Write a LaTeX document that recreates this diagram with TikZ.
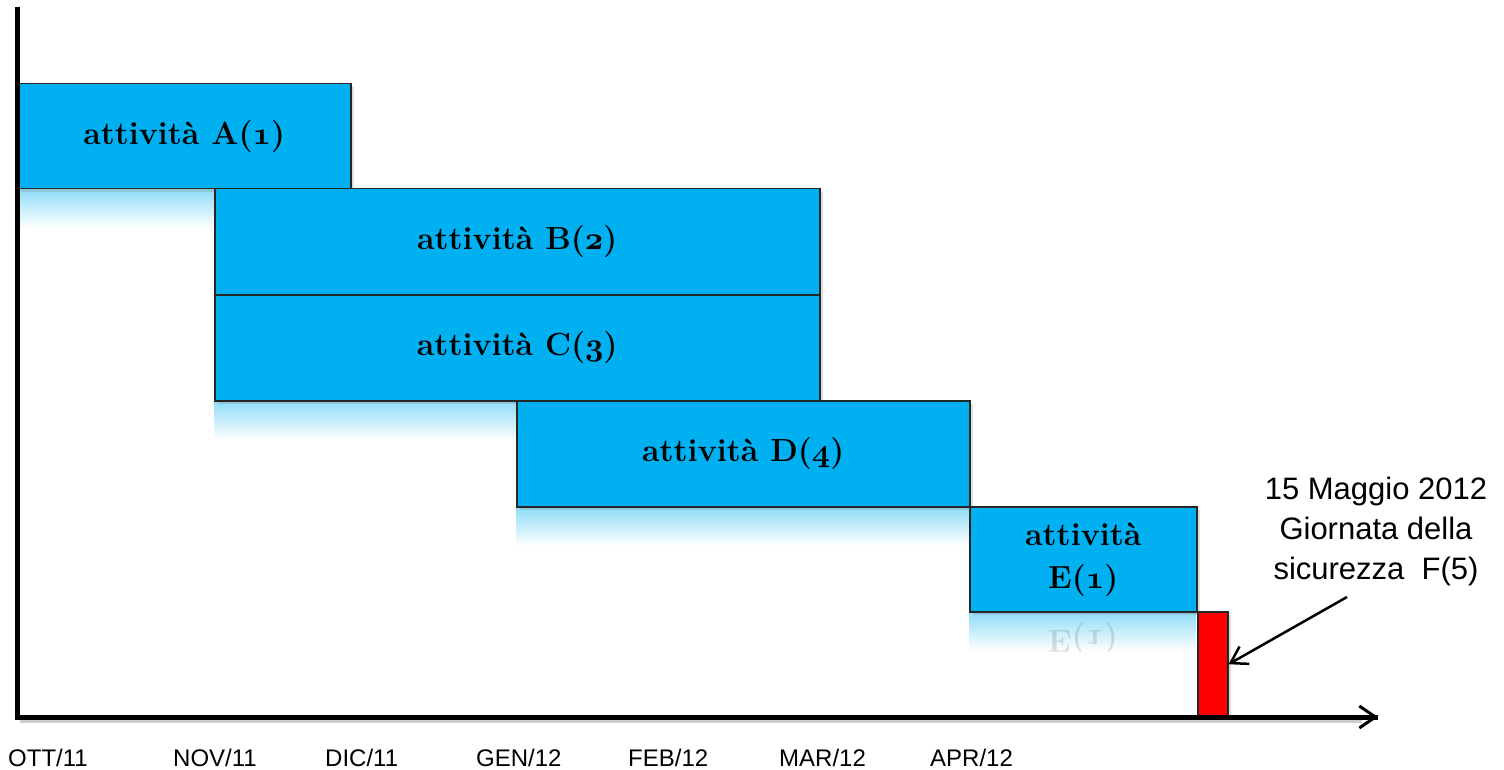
\RequirePackage{fix-cm}
\documentclass[tikz,border=0pt]{standalone}
\usepackage{fontspec}
\newfontfamily\arialf{Liberation Sans}
\usetikzlibrary{arrows.meta,shadows}
\definecolor{boxblue}{HTML}{00B0F0}
\definecolor{boxred}{HTML}{FF0000}
\newcommand{\osfnum}[1]{{\usefont{OML}{cmm}{b}{it}#1}}
\begin{document}
\begin{tikzpicture}[x=1pt,y=-1pt,
  actbox/.style={draw=black!85, line width=1.5pt, fill=boxblue, anchor=north west,
    drop shadow={shadow xshift=3pt,shadow yshift=-3pt,opacity=0.25}},
  refl/.style={top color=boxblue!45, bottom color=white, draw=none},
  acttext/.style={font=\fontsize{32}{43}\selectfont\bfseries, align=center},
  month/.style={font=\arialf\fontsize{24}{28}\selectfont, anchor=base west, inner sep=0pt},
]
\useasboundingbox (0,0) rectangle (1504,770);
% reflections
\shade[refl] (17,188) rectangle (350,228);
\shade[refl] (214,400) rectangle (819,440);
\shade[refl] (516,506) rectangle (969,546);
\shade[refl] (969,611) rectangle (1196,651);
\begin{scope}
  \clip (969,612) rectangle (1196,651);
  \node[acttext, yscale=-1, opacity=0.12] (Erefl) at (1083,638) {E(\osfnum{1})};
\end{scope}
% activity boxes
\node[actbox, minimum width=333pt, minimum height=105pt, acttext] (A) at (17,83) {attività A(\osfnum{1})};
\node[actbox, minimum width=605pt, minimum height=106pt, acttext] (B) at (214,188) {attività B(\osfnum{2})};
\node[actbox, minimum width=605pt, minimum height=106pt, acttext] (C) at (214,294) {attività C(\osfnum{3})};
\node[actbox, minimum width=453pt, minimum height=106pt, acttext] (D) at (516,400) {attività D(\osfnum{4})};
\node[actbox, minimum width=227pt, minimum height=105pt, acttext] (E) at (969,506) {attività\\E(\osfnum{1})};
\node[actbox, fill=boxred, minimum width=30pt, minimum height=105pt] (F) at (1197,611) {};
% axes
\coordinate (ytop) at (17,7);
\coordinate (O) at (17,717);
\coordinate (xend) at (1378,717);
\coordinate (xshadowA) at (20,721);
\coordinate (xshadowB) at (1362,721);
\draw[line width=4pt, black, opacity=0.2] (xshadowA) -- (xshadowB);
\draw[line width=5pt] (ytop) -- (O) -- (xend);
\draw[line width=3pt, -{Straight Barb[length=16pt,width=22pt]}] (O) -- (xend);
% callout
\node[font=\arialf\fontsize{31}{40}\selectfont, align=center] (Flabel) at (1376,531) {15 Maggio 2012\\Giornata della\\sicurezza\ \ F(5)};
\coordinate (tail) at (1347,597);
\draw[line width=2.5pt, -{Straight Barb[length=16pt,width=20pt]}] (tail) -- (F.east);
% month labels
\node[month] (m1) at (8,766) {OTT/11};
\node[month] (m2) at (173,766) {NOV/11};
\node[month] (m3) at (325,766) {DIC/11};
\node[month] (m4) at (476,766) {GEN/12};
\node[month] (m5) at (628,766) {FEB/12};
\node[month] (m6) at (779,766) {MAR/12};
\node[month] (m7) at (930,766) {APR/12};
\end{tikzpicture}
\end{document}
